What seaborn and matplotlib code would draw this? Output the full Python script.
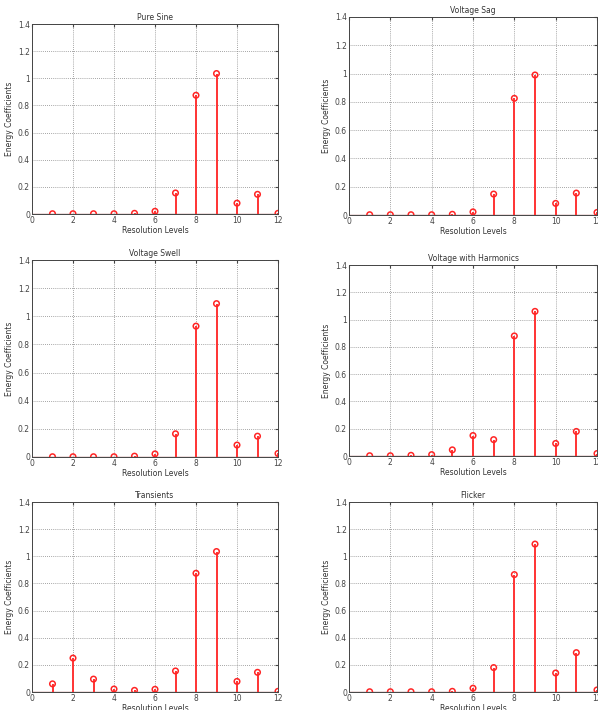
import matplotlib
matplotlib.use("Agg")
import matplotlib.pyplot as plt
import seaborn as sns
import pandas as pd
import numpy as np

levels = list(range(1, 13))

pure_sine = [0.002, 0.002, 0.002, 0.002, 0.005, 0.02, 0.155, 0.875, 1.035, 0.08, 0.145, 0.005]
voltage_sag = [0.002, 0.002, 0.002, 0.002, 0.005, 0.022, 0.148, 0.825, 0.99, 0.082, 0.155, 0.018]
voltage_swell = [0.002, 0.002, 0.002, 0.002, 0.006, 0.022, 0.165, 0.93, 1.09, 0.085, 0.148, 0.025]
harmonics = [0.002, 0.002, 0.005, 0.01, 0.045, 0.15, 0.12, 0.88, 1.06, 0.092, 0.18, 0.018]
transients = [0.06, 0.25, 0.095, 0.022, 0.012, 0.02, 0.155, 0.875, 1.035, 0.078, 0.145, 0.005]
flicker = [0.002, 0.002, 0.002, 0.002, 0.005, 0.028, 0.18, 0.865, 1.09, 0.14, 0.29, 0.015]

titles = ["Pure Sine", "Voltage Sag", "Voltage Swell", "Voltage with Harmonics",
          "Transients", "Flicker"]
series = [pure_sine, voltage_sag, voltage_swell, harmonics, transients, flicker]

sns.set_style("white")
plt.rcParams['font.family'] = ['DejaVu Sans']

W, H = 598, 710
fig = plt.figure(figsize=(W / 100, H / 100), dpi=100)

# axes boxes in pixels: left, top, right, bottom
boxes = [(32, 24, 278, 214), (349, 17, 597, 215),
         (32, 260, 278, 457), (349, 265, 597, 456),
         (32, 502, 278, 692), (349, 502, 597, 692)]

for (l, t, r, b), title, vals in zip(boxes, titles, series):
    ax = fig.add_axes([l / W, 1 - b / H, (r - l) / W, (b - t) / H])
    df = pd.DataFrame({"level": levels, "energy": vals})
    ax.vlines(df["level"], 0, df["energy"], color="#ff3333", lw=1.4, zorder=3)
    ax.axhline(0, color="#a05555", lw=1.0, zorder=2)
    sns.scatterplot(data=df, x="level", y="energy", ax=ax, marker="o", s=16,
                    facecolor="none", edgecolor="#ff2525", linewidth=1.1, zorder=4)
    ax.set_xlim(0, 12)
    ax.set_ylim(0, 1.4)
    ax.set_xticks(np.arange(0, 13, 2))
    ax.set_yticks(np.arange(0, 1.41, 0.2))
    ax.set_xticklabels([str(v) for v in range(0, 13, 2)])
    ax.set_yticklabels(["0", "0.2", "0.4", "0.6", "0.8", "1", "1.2", "1.4"])
    ax.grid(True, ls=(0, (1, 1.5)), color="#888888", lw=0.6)
    ax.tick_params(direction="in", length=2, labelsize=5.5, colors="#444444", pad=1.5,
                   top=True, right=True)
    for sp in ax.spines.values():
        sp.set_color("#444444")
        sp.set_linewidth(0.7)
    ax.set_title(title, fontsize=5.5, pad=3, color="#333333")
    ax.set_xlabel("Resolution Levels", fontsize=5.5, labelpad=1, color="#333333")
    ax.set_ylabel("Energy Coefficients", fontsize=5.5, labelpad=3, color="#333333")

fig.savefig("out.png", dpi=100)
